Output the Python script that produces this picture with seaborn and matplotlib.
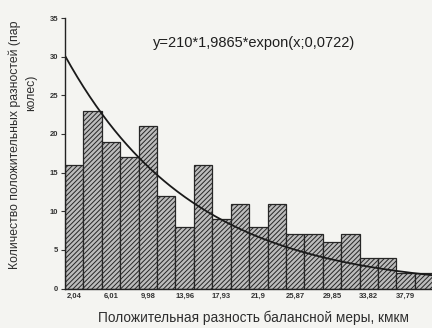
import numpy as np
import pandas as pd
import matplotlib
matplotlib.use("Agg")
import matplotlib.pyplot as plt
import seaborn as sns

# histogram counts (bin width 1.9865, N = 210)
counts = [16, 23, 19, 17, 21, 12, 8, 16, 9, 11, 8, 11, 7, 7, 6, 7, 4, 4, 2, 2]
bin_width = 1.9865
n_total = 210
lam = 0.0722
tick_labels = ["2,04", "6,01", "9,98", "13,96", "17,93", "21,9",
               "25,87", "29,85", "33,82", "37,79"]

edges = np.arange(len(counts) + 1) * bin_width
centers = edges[:-1] + bin_width / 2
df = pd.DataFrame({"x": centers, "n": counts})

sns.set_theme(style="white")
plt.rcParams["font.family"] = ["Liberation Sans", "DejaVu Sans"]
plt.rcParams["hatch.linewidth"] = 0.7

bg = "#f4f4f1"
fig = plt.figure(figsize=(4.32, 3.28), dpi=100, facecolor=bg)
ax = fig.add_axes([0.1505, 0.1204, 0.8495, 0.8246])
ax.set_facecolor(bg)

sns.histplot(data=df, x="x", weights="n", bins=list(edges), ax=ax,
             color="#bcbcbc", edgecolor="#262626", linewidth=0.9, alpha=1)
for p in ax.patches:
    p.set_hatch("///////")

# fitted exponential curve
xs = np.linspace(0, 40, 300)
ys = n_total * bin_width * lam * np.exp(-lam * xs)
ax.plot(xs, ys, color="#1a1a1a", lw=1.3)

ax.set_xlim(0, 39.6)
ax.set_ylim(0, 35)
ax.set_yticks(range(0, 36, 5))
ax.set_xticks(centers[::2])
ax.set_xticklabels(tick_labels, fontweight="bold")
ax.set_yticklabels([str(v) for v in range(0, 36, 5)], fontweight="bold")
ax.tick_params(axis="x", length=0, pad=3, labelsize=5.5, colors="#333333")
ax.tick_params(axis="y", length=3, width=0.8, direction="out", pad=2,
               labelsize=5.5, colors="#333333", left=True)
ax.set_xlabel("")
ax.set_ylabel("")
for s in ["top", "right"]:
    ax.spines[s].set_visible(False)
for s in ["left", "bottom"]:
    ax.spines[s].set_color("#222222")
    ax.spines[s].set_linewidth(1.0)

fig.text(0.588, 0.869, "y=210*1,9865*expon(x;0,0722)",
         ha="center", va="center", fontsize=10.5, color="#1e1e1e")
fig.text(0.586, 0.030, "Положительная разность балансной меры, кмкм",
         ha="center", va="center", fontsize=9.8, color="#2e2e2e")
fig.text(0.035, 0.558, "Количество положительных разностей (пар",
         rotation=90, ha="center", va="center", fontsize=8.8, color="#2e2e2e")
fig.text(0.072, 0.716, "колес)",
         rotation=90, ha="center", va="center", fontsize=8.8, color="#2e2e2e")

fig.savefig("out.png", dpi=100, facecolor=bg)
